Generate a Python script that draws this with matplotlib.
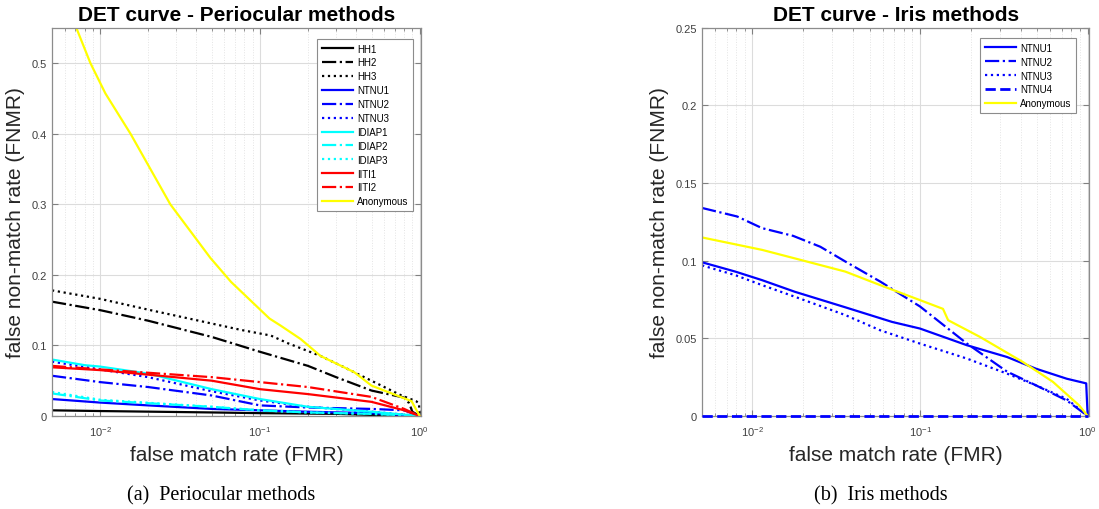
import numpy as np
import matplotlib
matplotlib.use("Agg")
import matplotlib.pyplot as plt
from matplotlib.ticker import FuncFormatter, LogLocator

plt.rcParams['font.family'] = ['Liberation Sans', 'DejaVu Sans']
plt.rcParams['mathtext.fontset'] = 'custom'
plt.rcParams['mathtext.rm'] = 'Liberation Sans'

# ---- periocular methods (left panel) ----
hh1_fmr = [0.005, 0.01, 0.05, 0.1, 0.3, 0.6, 1.0]
hh1_fnmr = [0.008, 0.007, 0.005, 0.004, 0.003, 0.001, 0.0]
hh2_fmr = [0.005, 0.01, 0.02, 0.05, 0.1, 0.2, 0.3, 0.5, 0.8, 0.86, 0.9, 1.0]
hh2_fnmr = [0.162, 0.150, 0.135, 0.112, 0.091, 0.071, 0.055, 0.036, 0.026, 0.018, 0.006, 0.0]
hh3_fmr = [0.005, 0.01, 0.0206, 0.05, 0.076, 0.117, 0.15, 0.24, 0.33, 0.45, 0.77, 0.95, 0.99, 1.0]
hh3_fnmr = [0.178, 0.166, 0.150, 0.131, 0.122, 0.114, 0.103, 0.085, 0.070, 0.055, 0.029, 0.021, 0.018, 0.0]
ntnu1_fmr = [0.005, 0.01, 0.02, 0.05, 0.1, 0.2, 0.5, 1.0]
ntnu1_fnmr = [0.024, 0.019, 0.015, 0.010, 0.008, 0.006, 0.004, 0.0]
ntnu2_fmr = [0.005, 0.01, 0.02, 0.05, 0.1, 0.2, 0.5, 0.8, 1.0]
ntnu2_fnmr = [0.057, 0.048, 0.041, 0.029, 0.015, 0.012, 0.010, 0.008, 0.0]
ntnu3_fmr = [0.005, 0.01, 0.02, 0.05, 0.1, 0.2, 0.5, 1.0]
ntnu3_fnmr = [0.077, 0.066, 0.055, 0.035, 0.022, 0.013, 0.006, 0.0]
idiap1_fmr = [0.005, 0.008, 0.01, 0.02, 0.05, 0.1, 0.2, 0.5, 1.0]
idiap1_fnmr = [0.080, 0.072, 0.070, 0.060, 0.038, 0.024, 0.013, 0.006, 0.0]
idiap2_fmr = [0.005, 0.01, 0.05, 0.1, 0.2, 0.5, 1.0]
idiap2_fnmr = [0.032, 0.022, 0.013, 0.008, 0.005, 0.003, 0.0]
idiap3_fmr = [0.005, 0.01, 0.05, 0.1, 0.2, 0.5, 1.0]
idiap3_fnmr = [0.034, 0.023, 0.013, 0.008, 0.005, 0.003, 0.0]
iiti1_fmr = [0.005, 0.01, 0.05, 0.1, 0.2, 0.5, 0.8, 1.0]
iiti1_fnmr = [0.069, 0.065, 0.050, 0.038, 0.031, 0.020, 0.008, 0.0]
iiti2_fmr = [0.005, 0.01, 0.05, 0.1, 0.2, 0.5, 0.8, 1.0]
iiti2_fnmr = [0.071, 0.066, 0.055, 0.048, 0.041, 0.027, 0.010, 0.0]
anon_p_fmr = [0.0068, 0.0071, 0.0087, 0.0108, 0.0155, 0.0275, 0.049, 0.066, 0.115,
              0.135, 0.18, 0.24, 0.39, 0.5, 0.89, 1.0]
anon_p_fnmr = [0.565, 0.55, 0.50, 0.457, 0.40, 0.30, 0.224, 0.19, 0.138,
               0.128, 0.109, 0.085, 0.062, 0.043, 0.021, 0.0]

# ---- iris methods (right panel) ----
i_ntnu1_fmr = [0.005, 0.0079, 0.0114, 0.0179, 0.0358, 0.068, 0.1, 0.19, 0.33, 0.49, 0.75, 0.98, 1.0]
i_ntnu1_fnmr = [0.099, 0.093, 0.0875, 0.080, 0.070, 0.0606, 0.0563, 0.0456, 0.038, 0.0305, 0.024, 0.021, 0.0]
i_ntnu2_fmr = [0.005, 0.0081, 0.0114, 0.0175, 0.0254, 0.0358, 0.0578, 0.1, 0.19, 0.33, 0.49, 0.75, 1.0]
i_ntnu2_fnmr = [0.134, 0.1285, 0.121, 0.116, 0.109, 0.0995, 0.0866, 0.0705, 0.0467, 0.0286, 0.0198, 0.010, 0.0]
i_ntnu3_fmr = [0.005, 0.0079, 0.0114, 0.0179, 0.0358, 0.0578, 0.1, 0.19, 0.33, 0.49, 0.75, 1.0]
i_ntnu3_fnmr = [0.097, 0.0907, 0.0843, 0.0768, 0.065, 0.0552, 0.0466, 0.037, 0.0273, 0.0198, 0.011, 0.0]
i_ntnu4_fmr = [0.005, 1.0]
i_ntnu4_fnmr = [0.0, 0.0]
i_anon_fmr = [0.005, 0.0114, 0.0179, 0.0358, 0.0578, 0.1, 0.137, 0.147, 0.227, 0.41, 0.62, 0.89, 1.0]
i_anon_fnmr = [0.115, 0.107, 0.1015, 0.093, 0.0843, 0.0746, 0.069, 0.0617, 0.051, 0.0348, 0.022, 0.0068, 0.0]

peri_series = [
    ("HH1", hh1_fmr, hh1_fnmr, "black", "-"),
    ("HH2", hh2_fmr, hh2_fnmr, "black", "-."),
    ("HH3", hh3_fmr, hh3_fnmr, "black", ":"),
    ("NTNU1", ntnu1_fmr, ntnu1_fnmr, "blue", "-"),
    ("NTNU2", ntnu2_fmr, ntnu2_fnmr, "blue", "-."),
    ("NTNU3", ntnu3_fmr, ntnu3_fnmr, "blue", ":"),
    ("IDIAP1", idiap1_fmr, idiap1_fnmr, "cyan", "-"),
    ("IDIAP2", idiap2_fmr, idiap2_fnmr, "cyan", "-."),
    ("IDIAP3", idiap3_fmr, idiap3_fnmr, "cyan", ":"),
    ("IITI1", iiti1_fmr, iiti1_fnmr, "red", "-"),
    ("IITI2", iiti2_fmr, iiti2_fnmr, "red", "-."),
    ("Anonymous", anon_p_fmr, anon_p_fnmr, "yellow", "-"),
]
iris_series = [
    ("NTNU1", i_ntnu1_fmr, i_ntnu1_fnmr, "blue", "-"),
    ("NTNU2", i_ntnu2_fmr, i_ntnu2_fnmr, "blue", "-."),
    ("NTNU3", i_ntnu3_fmr, i_ntnu3_fnmr, "blue", ":"),
    ("NTNU4", i_ntnu4_fmr, i_ntnu4_fnmr, "blue", "--"),
    ("Anonymous", i_anon_fmr, i_anon_fnmr, "yellow", "-"),
]


def draw_det(ax, series, title, ymax, yticks, legend_bbox):
    for name, x, y, col, ls in series:
        on_axis = (max(y) == 0)
        if on_axis:
            # line lying on the x axis: draw over the spine, unclipped
            ax.plot(x, y, color=col, linestyle=ls, linewidth=2.0, label=name,
                    clip_on=False, zorder=3)
        else:
            ax.plot(x, y, color=col, linestyle=ls, linewidth=1.6, label=name)
    ax.set_xscale("log")
    ax.set_xlim(0.005, 1.02)
    ax.set_ylim(0, ymax)
    ax.set_yticks(yticks)
    ax.yaxis.set_major_formatter(FuncFormatter(lambda v, p: "%g" % v))
    ax.xaxis.set_major_locator(LogLocator(base=10, numticks=10))
    ax.xaxis.set_minor_locator(LogLocator(base=10, subs=np.arange(2, 10), numticks=10))
    ax.grid(True, which="major", color="#dcdcdc", linewidth=0.8)
    ax.grid(True, which="minor", axis="x", color="#e4e4e4", linewidth=0.7, linestyle=":")
    ax.set_axisbelow(True)
    ax.tick_params(which="both", direction="in", top=True, right=True,
                   colors="#808080", labelcolor="#404040", labelsize=8)
    ax.tick_params(axis="x", which="major", pad=6)
    ax.tick_params(which="major", length=4)
    ax.tick_params(which="minor", length=2.5)
    for s in ax.spines.values():
        s.set_color("#8c8c8c")
        s.set_linewidth(0.9)
    ax.set_title(title, fontsize=15, fontweight="bold", pad=6)
    ax.set_xlabel("false match rate (FMR)", fontsize=15, color="#262626", labelpad=5)
    ax.set_ylabel("false non-match rate (FNMR)", fontsize=15, color="#262626", labelpad=5)
    leg = ax.legend(loc="upper left", bbox_to_anchor=legend_bbox, fontsize=7,
                    handlelength=3.2, handletextpad=0.4, labelspacing=0.4,
                    borderpad=0.5, borderaxespad=0, fancybox=False, framealpha=1)
    leg.get_frame().set_edgecolor("#8c8c8c")
    leg.get_frame().set_linewidth(0.8)


fig = plt.figure(figsize=(10.99, 5.10), dpi=100)
ax1 = fig.add_axes([0.0473, 0.1824, 0.3358, 0.761])
ax2 = fig.add_axes([0.6388, 0.1824, 0.3522, 0.761])

draw_det(ax1, peri_series, "DET curve - Periocular methods", 0.55,
         [0, 0.1, 0.2, 0.3, 0.4, 0.5], (0.718, 0.972))
draw_det(ax2, iris_series, "DET curve - Iris methods", 0.25,
         [0, 0.05, 0.1, 0.15, 0.2, 0.25], (0.718, 0.974))

fig.text(221 / 1099, 1 - 496 / 510, "(a)  Periocular methods", ha="center", va="center",
         fontsize=14.5, family="Liberation Serif")
fig.text(881 / 1099, 1 - 496 / 510, "(b)  Iris methods", ha="center", va="center",
         fontsize=14.5, family="Liberation Serif")

fig.savefig("out.png", dpi=100)
